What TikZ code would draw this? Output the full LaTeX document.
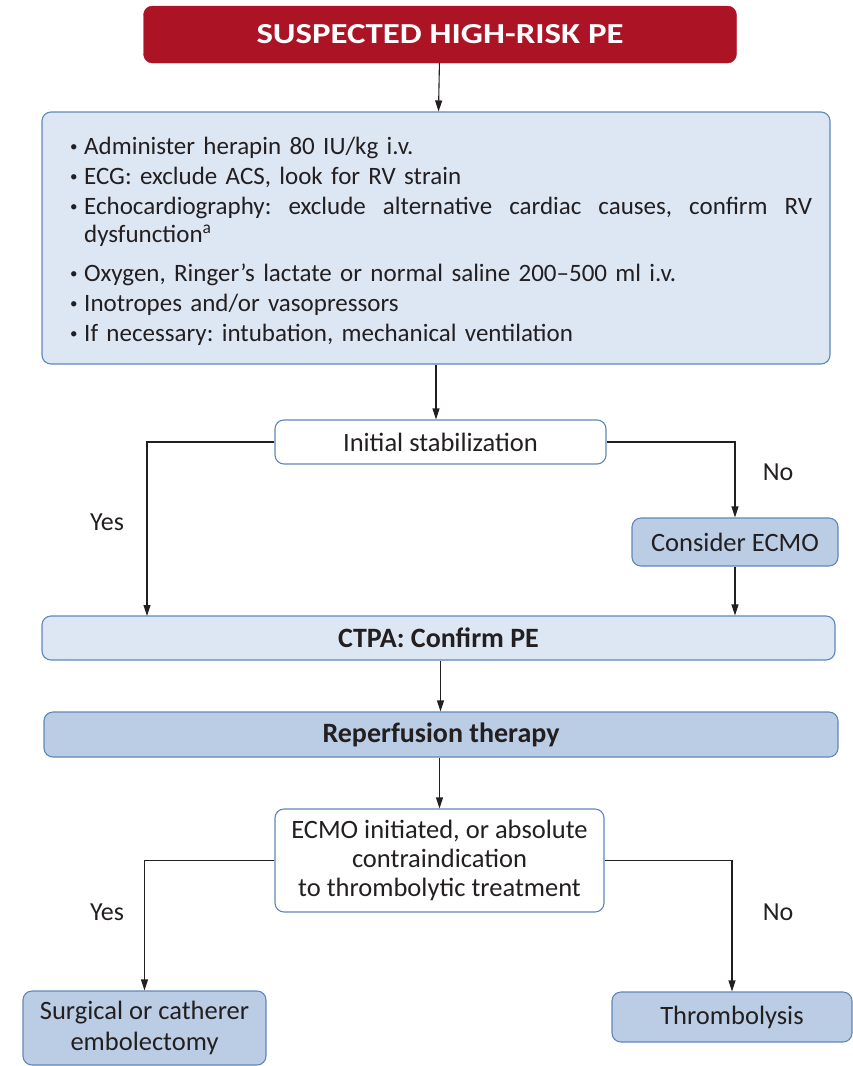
\documentclass[tikz,border=0pt]{standalone}
\usepackage{fontspec}
\setmainfont{Carlito}
\newfontfamily\headfont{Carlito}[FakeStretch=1.2]
\usepackage{tikz}
\usetikzlibrary{arrows.meta,positioning}
\definecolor{peRed}{RGB}{172,20,38}
\definecolor{paleBlue}{RGB}{221,231,243}
\definecolor{stepBlue}{RGB}{186,205,229}
\definecolor{edgeBlue}{RGB}{95,135,185}
\definecolor{inkGray}{RGB}{35,31,32}
\newcommand{\dotitem}{\makebox[14pt][l]{\raisebox{2.5pt}{\fontsize{15}{15}\selectfont\textbullet}}}
\frenchspacing

\begin{document}
\begin{tikzpicture}[x=1pt, y=-1pt,
        redbox/.style={rectangle, rounded corners=9pt, draw=peRed, fill=peRed, text=white,
          font=\headfont\fontsize{29}{34}\selectfont\bfseries},
        palebox/.style={rectangle, rounded corners=9pt, draw=edgeBlue, line width=1.1pt, fill=paleBlue,
          text=inkGray, font=\fontsize{26.5}{29}\selectfont},
        stepbox/.style={palebox, fill=stepBlue},
        whitebox/.style={palebox, fill=white},
        boldtext/.style={font=\fontsize{28}{30}\selectfont\bfseries},
        answer/.style={text=inkGray, font=\fontsize{26}{26}\selectfont},
        flow/.style={-{Triangle[length=11pt,width=7pt]}, line width=1.1pt, inkGray}
      ]
        \useasboundingbox (0,0) rectangle (853,1066);
        % Start
        \node[redbox, minimum width=593pt, minimum height=57pt] (start) at (440,34.5) {SUSPECTED HIGH-RISK PE};
        % First measures
        \node[palebox, minimum width=788pt, minimum height=252pt] (measures) at (436,238) {};
        \node[anchor=west, text width=742pt, align=left, inner sep=0pt, text=inkGray,
          font=\fontsize{25}{30}\selectfont\frenchspacing] (measurelist) at (70,241) {%
          \dotitem Administer herapin 80 IU/kg i.v.\\
          \dotitem ECG: exclude ACS, look for RV strain\\
          \dotitem \hbox to 728pt{Echocardiography:\hfill exclude\hfill alternative\hfill cardiac\hfill causes,\hfill confirm\hfill RV}\\[-2pt]
          \hspace*{14pt}dysfunction\textsuperscript{a}\\[9pt]
          \dotitem Oxygen, Ringer’s lactate or normal saline 200–500 ml i.v.\\
          \dotitem Inotropes and/or vasopressors\\
          \dotitem If necessary: intubation, mechanical ventilation};
        % Stabilization step
        \node[whitebox, minimum width=331pt, minimum height=44pt] (stab) at (440.5,442) {Initial stabilization};
        \node[stepbox, minimum width=206pt, minimum height=48pt] (ecmo) at (735,542) {Consider ECMO};
        \node[palebox, boldtext, minimum width=793pt, minimum height=44pt] (ctpa) at (438.5,638) {CTPA: Confirm PE};
        \node[stepbox, boldtext, minimum width=794pt, minimum height=45pt] (reperf) at (441,734.5) {Reperfusion therapy};
        % Decision on therapy
        \node[whitebox, minimum width=329pt, minimum height=103pt, align=center] (contra) at (439.5,860.5)
          {ECMO initiated, or absolute\\contraindication\\to thrombolytic treatment};
        \node[stepbox, minimum width=243pt, minimum height=74pt, align=center,
          font=\fontsize{26.5}{31}\selectfont] (surg) at (144.5,1028)
          {Surgical or catherer\\embolectomy};
        \node[stepbox, minimum width=240pt, minimum height=50pt] (lysis) at (732,1017) {Thrombolysis};
        % Answers
        \node[answer] (yes1) at (107,522) {Yes};
        \node[answer] (no1) at (778,472) {No};
        \node[answer] (yes2) at (107,912) {Yes};
        \node[answer] (no2) at (778,912) {No};
        \coordinate (yesend) at (147,616);
        % Connections
        \draw[flow] (start) -- (measures);
        \draw[flow] (measures) -- (measures.south |- stab.north);
        \draw[flow] (stab.west) -| (yesend);
        \draw[flow] (stab.east) -| (ecmo.north);
        \draw[flow] (ecmo.south) -- (ecmo.south |- ctpa.north);
        \draw[flow] (ctpa.south -| stab.south) -- (stab.south |- reperf.north);
        \draw[flow] (reperf.south -| contra.north) -- (contra.north);
        \draw[flow] (contra.west) -| (surg.north);
        \draw[flow] (contra.east) -| (lysis.north);
      \end{tikzpicture}
\end{document}
